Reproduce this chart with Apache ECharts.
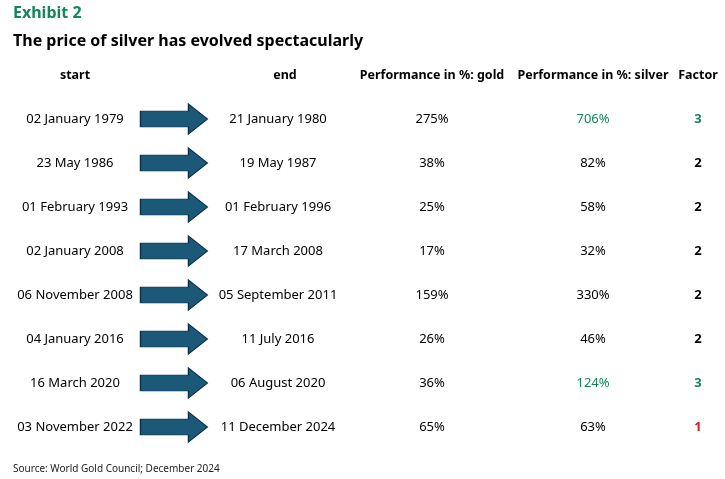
<!DOCTYPE html>
<html><head><meta charset="utf-8">
<script src="https://cdn.jsdelivr.net/npm/echarts@6/dist/echarts.min.js"></script>
<style>body{margin:0;background:#fff}#main{width:725px;height:479px}</style>
</head><body><div id="main"></div>
<script>
var starts = ['02 January 1979','23 May 1986','01 February 1993','02 January 2008','06 November 2008','04 January 2016','16 March 2020','03 November 2022'];
var ends = ['21 January 1980','19 May 1987','01 February 1996','17 March 2008','05 September 2011','11 July 2016','06 August 2020','11 December 2024'];
var gold = [275, 38, 25, 17, 159, 26, 36, 65];
var silver = [706, 82, 58, 32, 330, 46, 124, 63];
var factor = [3, 2, 2, 2, 2, 2, 3, 1];
var headers = ['start', 'end', 'Performance in %: gold', 'Performance in %: silver', 'Factor'];

var GREEN = '#14875a', RED = '#d41e24', TXT = '#000';
var colX = [75, 278, 432, 593, 698];
var headX = [75, 285, 432, 593, 698];
var font = 'Noto Sans';

function textSeries(items) {
  return {
    type: 'scatter', symbolSize: 0, silent: true,
    itemStyle: { opacity: 1 },
    data: items.map(function (d) {
      return { value: [d.x, d.y], name: d.t, label: { color: d.c || TXT, fontWeight: d.b ? 'bold' : 'normal', fontSize: d.h ? 12.5 : 13 } };
    }),
    label: { show: true, position: 'inside', formatter: function (p) { return p.name; }, fontFamily: font, fontSize: 13 }
  };
}

var cells = [];
headers.forEach(function (h, i) { cells.push({ x: headX[i], y: -1, t: h, b: true, h: true }); });
for (var i = 0; i < starts.length; i++) {
  var f = factor[i];
  var fc = f === 3 ? GREEN : (f === 1 ? RED : TXT);
  cells.push({ x: colX[0], y: i, t: starts[i] });
  cells.push({ x: colX[1], y: i, t: ends[i] });
  cells.push({ x: colX[2], y: i, t: gold[i] + '%' });
  cells.push({ x: colX[3], y: i, t: silver[i] + '%', c: f === 3 ? GREEN : TXT });
  cells.push({ x: colX[4], y: i, t: String(f), c: fc, b: true });
}

var chart = echarts.init(document.getElementById('main'));
chart.setOption({
  animation: false,
  title: [
    { text: 'Exhibit 2', left: 8, top: 0, textStyle: { color: GREEN, fontSize: 16, fontWeight: 'bold', fontFamily: font } },
    { text: 'The price of silver has evolved spectacularly', left: 8, top: 28, textStyle: { color: '#000', fontSize: 16, fontWeight: 'bold', fontFamily: font } },
    { text: 'Source: World Gold Council; December 2024', left: 8, top: 459, textStyle: { color: '#222', fontSize: 10, fontWeight: 'normal', fontFamily: font } }
  ],
  grid: { left: 0, right: 0, top: 53, height: 396 },
  xAxis: { type: 'value', min: 0, max: 725, show: false },
  yAxis: { type: 'value', min: -1.5, max: 7.5, inverse: true, show: false },
  series: [
    {
      type: 'scatter', silent: true,
      symbol: 'path://M0,7 L48,7 L48,0 L67,15 L48,30 L48,23 L0,23 Z',
      symbolSize: [67, 30],
      itemStyle: { color: '#1c5878', borderColor: '#0b3350', borderWidth: 1, opacity: 1 },
      data: starts.map(function (s, i) { return [174, i]; })
    },
    textSeries(cells)
  ]
});
</script></body></html>
